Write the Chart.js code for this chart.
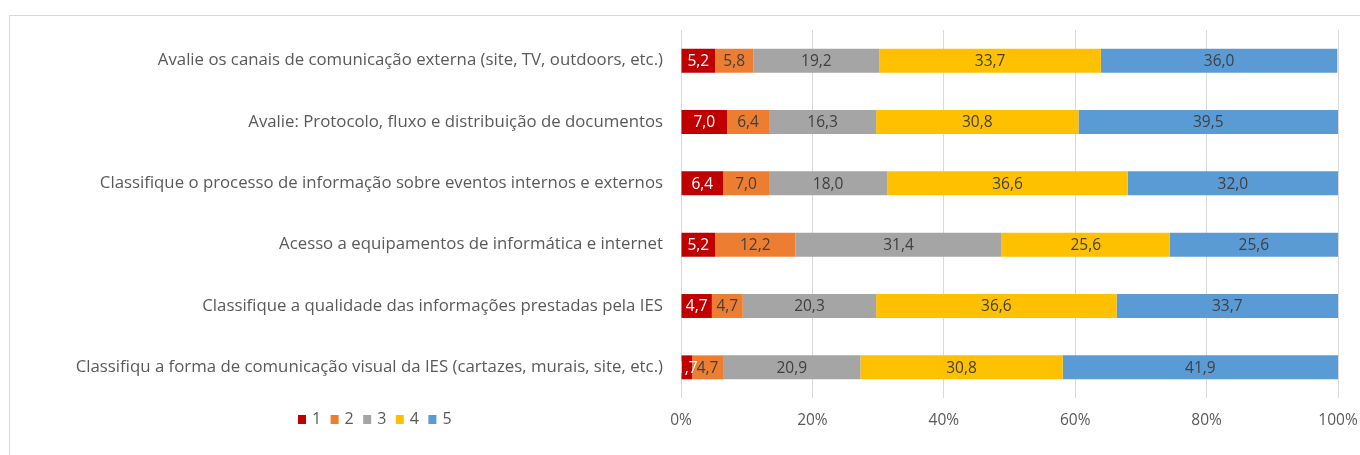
<!DOCTYPE html>
<html><head><meta charset="utf-8">
<script src="https://cdn.jsdelivr.net/npm/chart.js@4"></script>
<style>html,body{margin:0;padding:0;background:#fff}#wrap{width:1360px;height:455px}</style>
</head><body><div id="wrap"><canvas id="c" width="1360" height="455"></canvas></div>
<script>
const categories = [
  "Avalie os canais de comunicação externa (site, TV, outdoors, etc.)",
  "Avalie: Protocolo, fluxo e distribuição de documentos",
  "Classifique o processo de informação sobre eventos internos e externos",
  "Acesso a equipamentos de informática e internet",
  "Classifique a qualidade das informações prestadas pela IES",
  "Classifiqu a forma de comunicação visual da IES (cartazes, murais, site, etc.)"
];
const seriesNames = ["1","2","3","4","5"];
const s1 = [5.2, 7.0, 6.4, 5.2, 4.7, 1.7];
const s2 = [5.8, 6.4, 7.0, 12.2, 4.7, 4.7];
const s3 = [19.2, 16.3, 18.0, 31.4, 20.3, 20.9];
const s4 = [33.7, 30.8, 36.6, 25.6, 36.6, 30.8];
const s5 = [36.0, 39.5, 32.0, 25.6, 33.7, 41.9];
const xTicks = [0, 20, 40, 60, 80, 100];
const colors = ["#C00000","#ED7D31","#A5A5A5","#FFC000","#5B9BD5"];
const labelColors = ["#FFFFFF","#404040","#404040","#404040","#404040"];
const FONT = "'Open Sans', Lato, sans-serif";

const seriesData = [s1,s2,s3,s4,s5];
const datasets = seriesData.map((d,i)=>({
  label: seriesNames[i], data: d, backgroundColor: colors[i],
  barPercentage: 0.65, categoryPercentage: 0.6, borderWidth: 0
}));

const framePlugin = {
  id:'frame',
  beforeDraw(chart){
    const ctx = chart.ctx;
    ctx.save();
    ctx.fillStyle = '#fff';
    ctx.fillRect(0,0,chart.width,chart.height);
    ctx.strokeStyle = '#D9D9D9'; ctx.lineWidth = 1;
    ctx.strokeRect(9.5, 15.5, 1400, 500);
    ctx.restore();
  }
};
const valueLabels = {
  id:'valueLabels',
  afterDatasetsDraw(chart){
    const ctx = chart.ctx;
    ctx.save();
    ctx.font = "15.5px " + FONT;
    ctx.textAlign = 'center'; ctx.textBaseline = 'middle';
    chart.data.datasets.forEach((ds,i)=>{
      const meta = chart.getDatasetMeta(i);
      meta.data.forEach((el,j)=>{
        const v = ds.data[j];
        const cx = (el.x + el.base)/2;
        ctx.fillStyle = labelColors[i];
        ctx.fillText(v.toFixed(1).replace('.', ','), cx, el.y + 1);
      });
    });
    ctx.restore();
  }
};
const customLegend = {
  id:'customLegend',
  afterDraw(chart){
    const ctx = chart.ctx;
    ctx.save();
    ctx.font = "16px " + FONT;
    ctx.textBaseline = 'middle'; ctx.textAlign = 'left';
    let x = 298; const y = 419.5;
    chart.data.datasets.forEach((ds,i)=>{
      ctx.fillStyle = ds.backgroundColor;
      ctx.fillRect(x, y-4.5, 8, 9);
      ctx.fillStyle = '#595959';
      ctx.fillText(ds.label, x+14, y);
      x += 32.6;
    });
    ctx.restore();
  }
};

new Chart(document.getElementById('c'), {
  type:'bar',
  data:{ labels: categories, datasets },
  options:{
    indexAxis:'y', responsive:false, animation:false,
    layout:{ padding:{ top:30, right:22, left:0, bottom:0 } },
    plugins:{ legend:{display:false}, tooltip:{enabled:false} },
    scales:{
      x:{ stacked:true, min:0, max:100,
          afterBuildTicks(s){ s.ticks = xTicks.map(v=>({value:v})); },
          afterFit(s){ s.height = 57; s.paddingRight = 0; s.paddingLeft = 0; },
          grid:{ color:'#D9D9D9', drawTicks:false, lineWidth:1 },
          border:{ display:false },
          ticks:{ padding:13, color:'#595959', font:{ size:15.5, family:FONT }, callback:v=>v+'%' } },
      y:{ stacked:true,
          afterFit(s){ s.width = 681; },
          grid:{ display:false, drawTicks:false },
          border:{ display:false },
          ticks:{ padding:18, color:'#595959', font:{ size:16.8, family:FONT } } }
    }
  },
  plugins:[framePlugin, valueLabels, customLegend]
});
</script></body></html>
